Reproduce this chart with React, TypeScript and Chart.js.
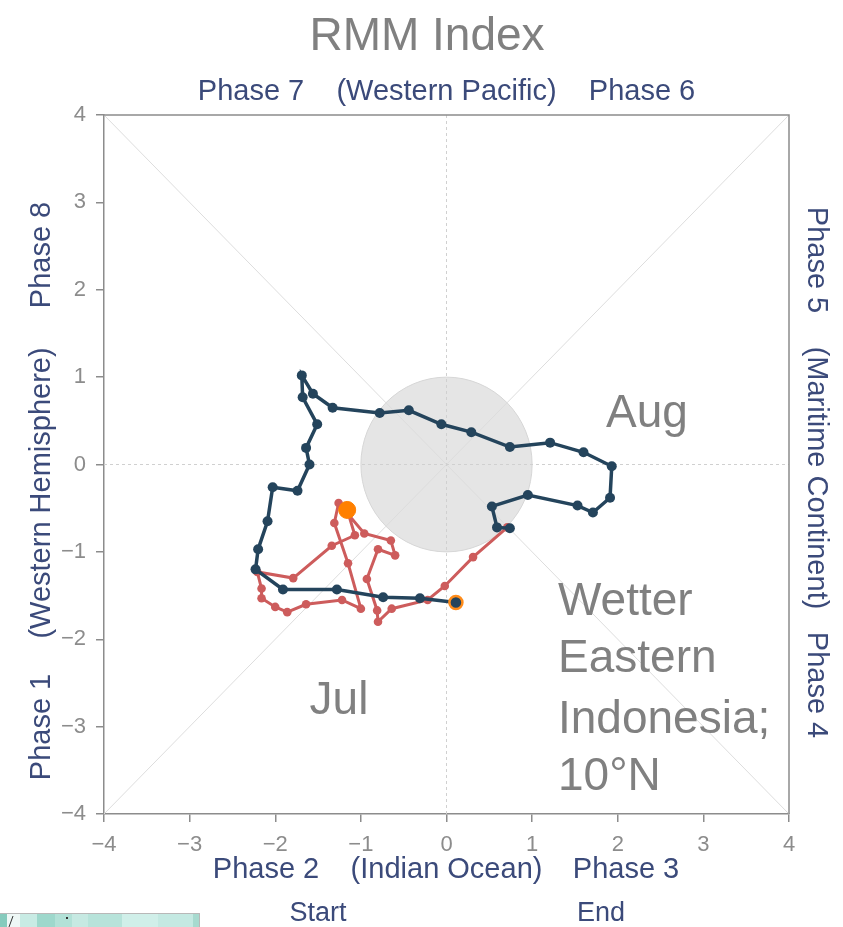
import { useEffect, useRef } from "react";
import { Chart, registerables } from "chart.js";

Chart.register(...registerables);

// July trajectory (RMM1, RMM2)
const julRmm1 = [-1.16, -1.07, -1.34, -1.79, -2.21, -2.16, -2.16, -2.0, -1.86, -1.64, -1.22, -1.0, -1.15, -1.31, -1.26, -0.96, -0.65, -0.6, -0.8, -0.93, -0.81, -0.8, -0.64, -0.22, -0.02, 0.31, 0.71];
const julRmm2 = [-0.52, -0.81, -0.93, -1.3, -1.23, -1.42, -1.53, -1.63, -1.69, -1.6, -1.55, -1.65, -1.13, -0.67, -0.44, -0.79, -0.87, -1.04, -0.97, -1.31, -1.67, -1.8, -1.65, -1.55, -1.39, -1.06, -0.72];

// August trajectory (RMM1, RMM2)
const augRmm1 = [0.74, 0.59, 0.53, 0.95, 1.53, 1.71, 1.91, 1.93, 1.6, 1.21, 0.74, 0.29, -0.06, -0.44, -0.78, -1.33, -1.56, -1.69, -1.68, -1.51, -1.64, -1.6, -1.74, -2.03, -2.09, -2.2, -2.23, -1.91, -1.28, -0.74, -0.31, 0.11];
const augRmm2 = [-0.73, -0.72, -0.48, -0.35, -0.47, -0.55, -0.38, -0.02, 0.14, 0.25, 0.2, 0.37, 0.46, 0.62, 0.59, 0.65, 0.81, 1.02, 0.77, 0.46, 0.19, 0.0, -0.3, -0.26, -0.65, -0.97, -1.2, -1.43, -1.43, -1.52, -1.53, -1.58];

const tickValues = [-4, -3, -2, -1, 0, 1, 2, 3, 4];
const axisMin = -4;
const axisMax = 4;

const titleText = "RMM Index";
const topLabels = ["Phase 7", "(Western Pacific)", "Phase 6"];
const bottomLabels = ["Phase 2", "(Indian Ocean)", "Phase 3"];
const leftLabels = ["Phase 1", "(Western Hemisphere)", "Phase 8"];
const rightLabels = ["Phase 5", "(Maritime Continent)", "Phase 4"];
const legendLabels = ["Start", "End"];
const regionNotes = ["Wetter", "Eastern", "Indonesia;", "10°N"];
const monthNotes = ["Jul", "Aug"];

const FONT = "'Liberation Sans', Arial, sans-serif";
const NAVY = "#3b4a7a";
const GREY_TEXT = "#808080";

const decorPlugin = {
  id: "rmmDecor",
  beforeDatasetsDraw(chart: any) {
    const { ctx, chartArea } = chart;
    const xs = chart.scales.x;
    const ys = chart.scales.y;
    const cx = xs.getPixelForValue(0);
    const cy = ys.getPixelForValue(0);
    const rx = xs.getPixelForValue(1) - cx;
    const ry = cy - ys.getPixelForValue(1);
    ctx.save();
    // unit circle
    ctx.beginPath();
    ctx.ellipse(cx, cy, rx, ry, 0, 0, Math.PI * 2);
    ctx.fillStyle = "#e5e5e5";
    ctx.fill();
    ctx.strokeStyle = "#d6d6d6";
    ctx.lineWidth = 1;
    ctx.stroke();
    // diagonals
    ctx.strokeStyle = "#dddddd";
    ctx.lineWidth = 1;
    ctx.beginPath();
    ctx.moveTo(xs.getPixelForValue(axisMin), ys.getPixelForValue(axisMin));
    ctx.lineTo(xs.getPixelForValue(axisMax), ys.getPixelForValue(axisMax));
    ctx.moveTo(xs.getPixelForValue(axisMin), ys.getPixelForValue(axisMax));
    ctx.lineTo(xs.getPixelForValue(axisMax), ys.getPixelForValue(axisMin));
    ctx.stroke();
    // dotted zero lines
    ctx.strokeStyle = "#d0d0d0";
    ctx.setLineDash([3, 3]);
    ctx.beginPath();
    ctx.moveTo(cx, chartArea.top);
    ctx.lineTo(cx, chartArea.bottom);
    ctx.moveTo(chartArea.left, cy);
    ctx.lineTo(chartArea.right, cy);
    ctx.stroke();
    ctx.setLineDash([]);
    // top/right frame
    ctx.strokeStyle = "#8c8c8c";
    ctx.lineWidth = 1.5;
    ctx.beginPath();
    ctx.moveTo(chartArea.left, chartArea.top);
    ctx.lineTo(chartArea.right, chartArea.top);
    ctx.lineTo(chartArea.right, chartArea.bottom);
    ctx.stroke();
    ctx.restore();
  },
  afterDraw(chart: any) {
    const { ctx } = chart;
    const xs = chart.scales.x;
    const pcx = xs.getPixelForValue(0);
    ctx.save();
    ctx.textAlign = "center";
    ctx.textBaseline = "alphabetic";
    // title
    ctx.fillStyle = GREY_TEXT;
    ctx.font = `46px ${FONT}`;
    ctx.fillText(titleText, 427, 50);
    // top / bottom phase labels
    ctx.fillStyle = NAVY;
    ctx.font = `29px ${FONT}`;
    const topX = [251, pcx, 642];
    topLabels.forEach((t, i) => ctx.fillText(t, topX[i], 100));
    const botX = [266, pcx, 626];
    bottomLabels.forEach((t, i) => ctx.fillText(t, botX[i], 878));
    // left rotated
    ctx.textBaseline = "middle";
    const leftY = [727, 493, 255];
    leftLabels.forEach((t, i) => {
      ctx.save();
      ctx.translate(42, leftY[i]);
      ctx.rotate(-Math.PI / 2);
      ctx.fillText(t, 0, 0);
      ctx.restore();
    });
    const rightY = [260, 478, 685];
    rightLabels.forEach((t, i) => {
      ctx.save();
      ctx.translate(816, rightY[i]);
      ctx.rotate(Math.PI / 2);
      ctx.fillText(t, 0, 0);
      ctx.restore();
    });
    // legend text
    ctx.textBaseline = "alphabetic";
    ctx.font = `27px ${FONT}`;
    ctx.fillText(legendLabels[0], 318, 921);
    ctx.fillText(legendLabels[1], 601, 921);
    // annotations
    ctx.fillStyle = GREY_TEXT;
    ctx.font = `46px ${FONT}`;
    ctx.fillText(monthNotes[0], 339, 714);
    ctx.fillText(monthNotes[1], 647, 427);
    ctx.textAlign = "left";
    const noteBase = [615, 672, 733, 790];
    regionNotes.forEach((t, i) => ctx.fillText(t, 558, noteBase[i]));
    // cropped strip at bottom-left
    const strip = [
      [0, 7, "#86cbbd"], [7, 20, "#eef8f6"], [20, 37, "#c8ebe4"], [37, 55, "#9ed8cc"],
      [55, 72, "#b2e1d7"], [72, 88, "#c6e9e2"], [88, 122, "#b7e3da"], [122, 158, "#d0efe9"],
      [158, 193, "#c4e9e2"], [193, 200, "#a7dacf"],
    ] as [number, number, string][];
    strip.forEach(([a, b, c]) => {
      ctx.fillStyle = c;
      ctx.fillRect(a, 914, b - a, 13);
    });
    ctx.strokeStyle = "#b8b8b8";
    ctx.lineWidth = 1;
    ctx.beginPath();
    ctx.moveTo(0, 913.5);
    ctx.lineTo(200, 913.5);
    ctx.moveTo(199.5, 913.5);
    ctx.lineTo(199.5, 927);
    ctx.stroke();
    ctx.strokeStyle = "#333";
    ctx.beginPath();
    ctx.moveTo(9, 927);
    ctx.lineTo(13, 916);
    ctx.stroke();
    ctx.fillStyle = "#333";
    ctx.fillRect(66, 917, 2, 2);
    ctx.restore();
  },
};

const fmtTick = (v: any) => {
  const n = Number(v);
  return n < 0 ? "\u2212" + Math.abs(n) : String(n);
};

export default function App() {
  const ref = useRef<HTMLCanvasElement | null>(null);
  useEffect(() => {
    document.body.style.margin = "0";
    const canvas = ref.current;
    if (!canvas) return;
    const jul = julRmm1.map((x, i) => ({ x, y: julRmm2[i] }));
    const aug = augRmm1.map((x, i) => ({ x, y: augRmm2[i] }));
    const start = [jul[0]];
    const end = [aug[aug.length - 1]];
    const tickCommon = {
      font: { size: 22, family: FONT },
      color: "#8c8c8c",
      padding: 10,
      stepSize: 1,
      callback: fmtTick,
    };
    const chart = new Chart(canvas, {
      type: "scatter",
      data: {
        datasets: [
          {
            label: "Start",
            data: start,
            pointRadius: 8.5,
            pointBackgroundColor: "#ff8000",
            pointBorderColor: "#ff8000",
            pointBorderWidth: 1,
            showLine: false,
            order: 0,
          },
          {
            label: "End",
            data: end,
            pointRadius: 6.5,
            pointBackgroundColor: "#24445c",
            pointBorderColor: "#ff8c1a",
            pointBorderWidth: 2.5,
            showLine: false,
            order: 1,
          },
          {
            label: "Aug",
            data: aug,
            showLine: true,
            borderColor: "#24445c",
            borderWidth: 3.5,
            pointRadius: 5,
            pointBackgroundColor: "#24445c",
            pointBorderColor: "#24445c",
            pointBorderWidth: 0,
            order: 2,
          },
          {
            label: "Jul",
            data: jul,
            showLine: true,
            borderColor: "#cd5c5c",
            borderWidth: 3,
            pointRadius: 4.3,
            pointBackgroundColor: "#cd5c5c",
            pointBorderColor: "#cd5c5c",
            pointBorderWidth: 0,
            order: 3,
          },
        ],
      },
      options: {
        animation: false,
        responsive: false,
        devicePixelRatio: 1,
        layout: { padding: { top: 115, right: 54, left: 0, bottom: 0 } },
        plugins: {
          legend: { display: false },
          title: { display: false },
          tooltip: { enabled: false },
        },
        scales: {
          x: {
            type: "linear",
            min: axisMin,
            max: axisMax,
            afterBuildTicks: (s: any) => {
              s.ticks = tickValues.map((v) => ({ value: v }));
            },
            afterFit: (s: any) => {
              s.height = 113;
            },
            ticks: tickCommon,
            grid: { drawOnChartArea: false, tickLength: 8, color: "#8c8c8c", lineWidth: 1.5 },
            border: { color: "#8c8c8c", width: 1.5 },
          },
          y: {
            type: "linear",
            min: axisMin,
            max: axisMax,
            afterBuildTicks: (s: any) => {
              s.ticks = tickValues.map((v) => ({ value: v }));
            },
            afterFit: (s: any) => {
              s.width = 104;
            },
            ticks: tickCommon,
            grid: { drawOnChartArea: false, tickLength: 8, color: "#8c8c8c", lineWidth: 1.5 },
            border: { color: "#8c8c8c", width: 1.5 },
          },
        },
      } as any,
      plugins: [decorPlugin],
    });
    return () => chart.destroy();
  }, []);
  return <canvas ref={ref} width={843} height={927} style={{ display: "block" }} />;
}
